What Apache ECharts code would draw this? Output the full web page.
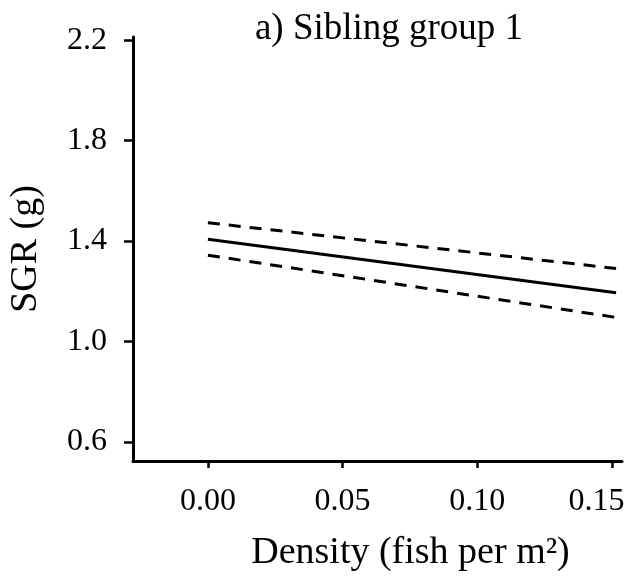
<!DOCTYPE html>
<html><head><meta charset="utf-8">
<script src="https://cdn.jsdelivr.net/npm/echarts@6/dist/echarts.min.js"></script>
<style>html,body{margin:0;padding:0;background:#fff}#c{width:628px;height:580px}</style>
</head><body><div id="c"></div>
<script>
const xTicks = [0, 0.05, 0.10, 0.15];
const yTicks = [0.6, 1.0, 1.4, 1.8, 2.2];
const xFit = [0.0, 0.1515];
const fitLine = [1.407, 1.194];
const upperCI = [1.473, 1.291];
const lowerCI = [1.344, 1.096];
const titleText = 'a) Sibling group 1';
const xName = 'Density (fish per m²)';
const yName = 'SGR (g)';

const pairs = ys => xFit.map((x, i) => [x, ys[i]]);
const FONT = '"Liberation Serif", "Times New Roman", serif';
const chart = echarts.init(document.getElementById('c'), null, {renderer: 'canvas'});
chart.setOption({
  animation: false,
  backgroundColor: '#fff',
  title: {text: titleText, left: 384, top: 6, textAlign: 'center',
    textStyle: {fontFamily: FONT, fontSize: 37, fontWeight: 'normal', color: '#000'}},
  grid: {left: 133, right: 6, top: 37, bottom: 119, containLabel: false, outerBoundsMode: 'none'},
  xAxis: {type: 'value', min: -0.0278, max: 0.1537,
    name: xName, nameLocation: 'middle', nameGap: 73,
    nameTextStyle: {fontFamily: FONT, fontSize: 38, color: '#000', padding: [0, 0, 0, 66]},
    axisLine: {onZero: false, lineStyle: {color: '#000', width: 3}},
    axisTick: {show: true, inside: false, length: 7, lineStyle: {color: '#000', width: 2.5}, customValues: xTicks},
    axisLabel: {customValues: xTicks,
      formatter: v => (Math.abs(v - 0.15) < 1e-9 ? '{last|' + v.toFixed(2) + '}' : v.toFixed(2)),
      rich: {last: {fontFamily: FONT, fontSize: 32, color: '#000', padding: [0, 31, 0, 0]}},
      margin: 25, fontFamily: FONT, fontSize: 32, color: '#000'},
    splitLine: {show: false}},
  yAxis: {type: 'value', min: 0.524, max: 2.213,
    name: yName, nameLocation: 'middle', nameGap: 88, nameRotate: 90,
    nameTextStyle: {fontFamily: FONT, fontSize: 38, color: '#000'},
    axisLine: {onZero: false, lineStyle: {color: '#000', width: 3}},
    axisTick: {show: true, inside: false, length: 9, lineStyle: {color: '#000', width: 2.5}, customValues: yTicks},
    axisLabel: {customValues: yTicks, formatter: v => v.toFixed(1), margin: 26,
      fontFamily: FONT, fontSize: 32, color: '#000'},
    splitLine: {show: false}},
  series: [
    {type: 'line', data: pairs(fitLine), symbol: 'none', lineStyle: {color: '#000', width: 3, type: 'solid'}},
    {type: 'line', data: pairs(upperCI), symbol: 'none', lineStyle: {color: '#000', width: 3, type: [12, 9]}},
    {type: 'line', data: pairs(lowerCI), symbol: 'none', lineStyle: {color: '#000', width: 3, type: [12, 9]}}
  ]
});
</script></body></html>
